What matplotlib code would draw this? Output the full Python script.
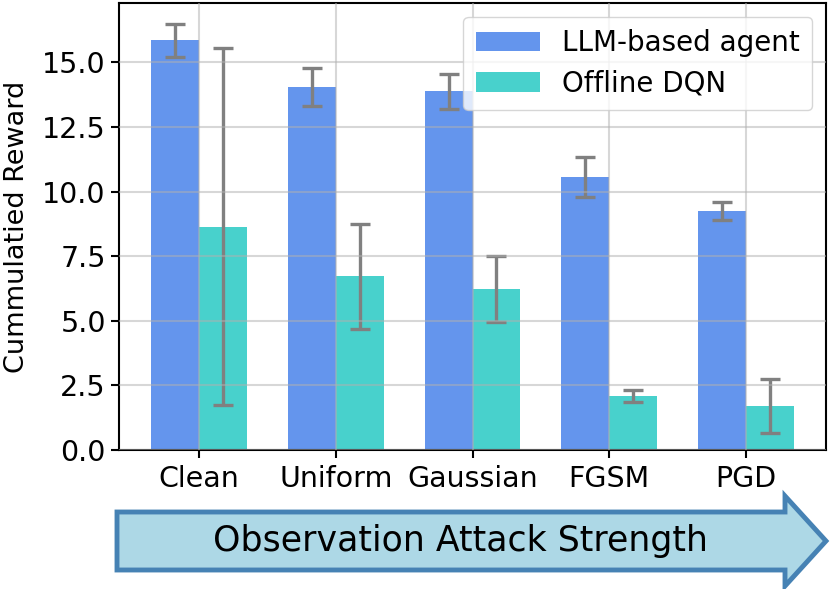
import matplotlib
matplotlib.use("Agg")
import matplotlib.pyplot as plt
from matplotlib.patches import Polygon
import numpy as np

attacks = ["Clean", "Uniform", "Gaussian", "FGSM", "PGD"]
llm_mean = [15.85, 14.05, 13.88, 10.57, 9.26]
llm_err = [0.65, 0.75, 0.68, 0.78, 0.34]
dqn_mean = [8.64, 6.72, 6.24, 2.10, 1.70]
dqn_err = [6.9, 2.04, 1.28, 0.24, 1.05]

plt.rcParams["font.family"] = "DejaVu Sans"
fig = plt.figure(figsize=(8.3, 5.89), dpi=100)
ax = fig.add_axes([119 / 830, 1 - 450 / 589, 707 / 830, 447 / 589])

x = np.arange(len(attacks))
w = 0.35
err_kw = dict(ecolor="gray", elinewidth=2.4, capsize=7, capthick=2.4)
ax.bar(x - w / 2, llm_mean, w, yerr=llm_err, color="cornflowerblue",
       label="LLM-based agent", error_kw=err_kw)
ax.bar(x + w / 2, dqn_mean, w, yerr=dqn_err, color="mediumturquoise",
       label="Offline DQN", error_kw=err_kw)

ax.set_ylim(0, 17.3)
ax.set_xticks(x)
ax.set_xticklabels(attacks)
ax.set_yticks(np.arange(0, 15.1, 2.5))
ax.tick_params(labelsize=20.5, width=1.5, length=6)
ax.tick_params(axis="x", pad=5)
ax.set_ylabel("Cummulatied Reward", fontsize=19.5, labelpad=9)
for s in ax.spines.values():
    s.set_linewidth(1.5)
ax.set_axisbelow(False)
ax.grid(True, color="#b0b0b0", alpha=0.5, linewidth=1.5)
ax.legend(loc="upper right", fontsize=20, handlelength=2.3, borderpad=0.45,
          labelspacing=0.45)

# arrow below the axis
W, H = 830, 589
pts = [(117, 512), (785, 512), (785, 496), (826, 541), (785, 586),
       (785, 570), (117, 570)]
pts = [(px / W, 1 - py / H) for px, py in pts]
fig.patches.append(Polygon(pts, closed=True, transform=fig.transFigure,
                           facecolor="lightblue", edgecolor="steelblue",
                           linewidth=3.5))
fig.text(460 / W, 1 - 541 / H, "Observation Attack Strength", fontsize=25,
         ha="center", va="center")

fig.savefig("out.png", dpi=100)
